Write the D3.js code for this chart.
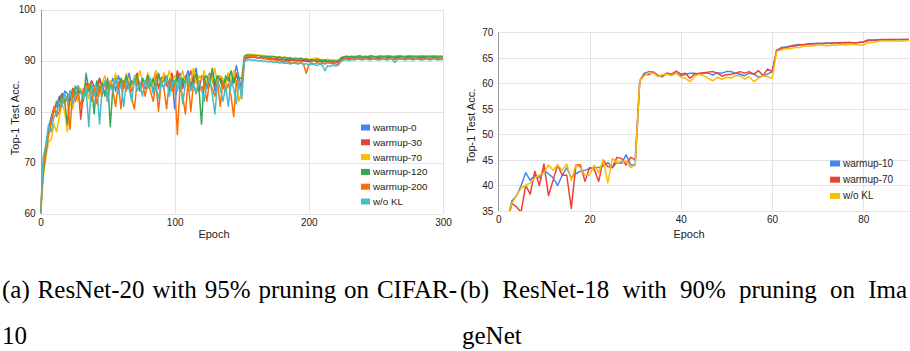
<!DOCTYPE html>
<html>
<head>
<meta charset="utf-8">
<script src="https://cdn.jsdelivr.net/npm/d3@7"></script>
<style>
  html, body { margin: 0; padding: 0; background: #fff; }
  svg { display: block; }
</style>
</head>
<body>
<script>
// ---------------- DATA ----------------
// Left chart: ResNet-20 / CIFAR-10, sampled every 2 epochs (0..300)
const epochsL = d3.range(0, 301, 2);
const seriesNamesL = ["warmup-0", "warmup-30", "warmup-70", "warmup-120", "warmup-200", "w/o KL"];
const warmup0 = [
  60, 69.5, 73, 76.5, 79, 80.5, 81, 83, 82, 84,
  83.5, 82, 84.5, 83, 85, 84, 83, 85.5, 84.5, 86,
  84, 85, 86.5, 85, 83.5, 86, 85, 86.5, 84, 87,
  85.5, 86, 84.5, 87.5, 85, 86, 87, 84.5, 86.5, 85,
  87.5, 86, 84, 87, 86.5, 85, 87.5, 86, 84, 87,
  80.5, 86, 87.5, 85, 86.5, 88, 85, 87, 88.5, 84.5,
  86.5, 87, 85, 86.5, 87.5, 84, 86, 87, 85.5, 86,
  87, 85, 86.5, 89, 86.5, 84.5,
  90.2, 90.5, 90.6, 90.7, 90.6, 90.5, 90.6, 90.4, 90.5, 90.4,
  90.3, 90.4, 90.2, 90.3, 90.1, 90.2, 90.0, 90.2, 90.1, 90.0,
  90.1, 89.9, 90.0, 89.8, 90.0, 89.9, 90.1, 89.8, 89.9, 89.7,
  89.8, 89.7, 89.9, 89.6, 89.8, 89.7, 90.3, 90.4, 90.5, 90.4,
  90.5, 90.4, 90.6, 90.5, 90.4, 90.5, 90.6, 90.5, 90.4, 90.5,
  90.6, 90.5, 90.4, 90.5, 90.6, 90.4, 90.5, 90.6, 90.5, 90.4,
  90.5, 90.6, 90.5, 90.4, 90.5, 90.6, 90.5, 90.6, 90.5, 90.4,
  90.5, 90.6, 90.5, 90.4, 90.5
];
const warmup30 = [
  60, 68.5, 72.5, 76, 78.5, 80.5, 79.5, 82.5, 83.5, 82,
  83, 81.5, 84.5, 83.5, 85, 78.5, 84, 85.5, 84, 86,
  85, 83, 86.5, 84.5, 85.5, 82.5, 86, 84, 87, 85.5,
  86, 84.5, 87, 85.5, 84, 86.5, 87.5, 85, 86, 84.5,
  87, 85.5, 86, 88, 84.5, 86.5, 87, 85, 86, 87.5,
  85, 88, 86, 84.5, 87, 86, 88, 85.5, 86.5, 84,
  87, 86, 84.5, 87.5, 86, 85, 87, 86.5, 84.5, 86,
  87.5, 85.5, 86, 87.5, 85, 85.5,
  90.4, 90.6, 90.7, 90.6, 90.7, 90.5, 90.6, 90.5, 90.4, 90.5,
  90.4, 90.3, 90.4, 90.2, 90.3, 90.1, 90.2, 90.0, 90.1, 90.0,
  89.9, 90.1, 89.8, 90.0, 89.7, 89.9, 90.0, 89.8, 89.9, 89.8,
  89.9, 89.7, 89.8, 89.6, 89.8, 89.5, 90.2, 90.4, 90.3, 90.5,
  90.4, 90.5, 90.3, 90.4, 90.5, 90.3, 90.4, 90.5, 90.4, 90.3,
  90.4, 90.5, 90.3, 90.4, 90.5, 90.4, 90.3, 90.4, 90.5, 90.4,
  90.3, 90.4, 90.5, 90.4, 90.3, 90.4, 90.5, 90.4, 90.3, 90.4,
  90.5, 90.4, 90.3, 90.4, 90.4
];
const warmup70 = [
  59, 67, 71, 74, 74.5, 77.5, 76, 79, 81.5, 80,
  76, 82, 80.5, 83.5, 82, 84.5, 83, 85, 82.5, 85.5,
  84, 86, 83, 85.5, 87, 84.5, 86, 85, 87.5, 84,
  86.5, 85, 87.5, 86, 84.5, 87, 85.5, 88, 86, 85,
  87.5, 86, 85, 88, 86.5, 85, 87.5, 86, 88, 85.5,
  87, 85.5, 86.5, 88, 85, 87, 86, 88.5, 85.5, 87,
  86, 88, 85.5, 87, 86, 88.5, 85, 87, 86.5, 85,
  87.5, 86, 88, 85.5, 82, 84,
  90.9, 91.2, 91.3, 91.1, 91.2, 91.0, 91.1, 90.9, 91.0, 90.8,
  90.9, 90.8, 90.7, 90.8, 90.6, 90.7, 90.5, 90.6, 90.4, 90.5,
  90.4, 90.5, 90.3, 90.4, 90.2, 90.3, 90.4, 90.5, 90.3, 90.2,
  90.1, 90.3, 90.0, 90.2, 89.9, 90.1, 90.6, 90.8, 90.9, 90.8,
  90.9, 90.8, 90.9, 91.0, 90.8, 90.9, 90.8, 91.0, 90.9, 90.8,
  90.9, 90.8, 90.9, 91.0, 90.9, 90.8, 90.9, 91.0, 90.9, 90.8,
  90.9, 91.0, 90.8, 90.9, 91.0, 90.9, 90.8, 90.9, 91.0, 90.9,
  90.8, 90.9, 91.0, 90.9, 90.8
];
const warmup120 = [
  60, 68, 72, 75.5, 78, 80, 82, 81, 83.5, 82,
  77.5, 84, 82.5, 85, 83.5, 84, 82, 87.5, 84, 85.5,
  79.5, 86, 84, 85.5, 83, 86.5, 77, 85, 86, 84,
  86.5, 85, 87, 84.5, 86, 85.5, 87, 84, 86.5, 85.5,
  87, 85, 86.5, 84.5, 87.5, 85.5, 86, 87, 84.5, 86.5,
  85, 87, 84, 86.5, 85.5, 87, 84.5, 86, 87.5, 85,
  77.5, 86.5, 87, 85, 88.5, 85.5, 87, 86, 84.5, 87,
  86, 88, 85.5, 87, 86.5, 86.5,
  90.8, 91.1, 91.0, 91.1, 90.9, 91.0, 90.8, 90.9, 90.7, 90.8,
  90.7, 90.8, 90.6, 90.7, 90.5, 90.6, 90.4, 90.5, 90.3, 90.4,
  90.3, 90.4, 90.2, 90.3, 90.1, 90.2, 90.0, 90.2, 90.1, 90.0,
  90.1, 89.9, 90.0, 89.8, 90.0, 89.9, 90.5, 90.7, 90.8, 90.7,
  90.8, 90.7, 90.8, 90.9, 90.7, 90.8, 90.7, 90.9, 90.8, 90.7,
  90.8, 90.9, 90.7, 90.8, 90.9, 90.8, 90.7, 90.8, 90.9, 90.8,
  90.7, 90.8, 90.9, 90.8, 90.7, 90.8, 90.9, 90.8, 90.7, 90.8,
  90.9, 90.8, 90.7, 90.8, 90.8
];
const warmup200 = [
  59.5, 69, 72.5, 75.5, 78, 81, 79, 80, 82.5, 81.5,
  83, 76.5, 84, 82, 83.5, 81, 84.5, 83, 85.5, 82,
  84.5, 81.5, 85, 83, 86, 82, 85.5, 84, 81, 85.5,
  80.5, 86, 84, 85.5, 82.5, 80.5, 86, 84, 85.5, 83,
  86, 84, 82, 85.5, 80, 86, 84.5, 80.5, 86, 84,
  85.5, 75.5, 85, 83, 79.5, 86, 80, 85.5, 83.5, 86,
  84, 85.5, 82, 86, 84.5, 83, 85.5, 81, 86, 84,
  85.5, 83, 79, 86, 84.5, 85,
  90.5, 90.8, 90.9, 90.7, 90.8, 90.5, 90.6, 90.3, 90.4, 90.2,
  90.1, 90.2, 89.9, 90.0, 89.8, 89.7, 89.9, 89.6, 89.5, 89.7,
  89.4, 89.6, 89.3, 87.5, 89.2, 89.5, 89.3, 89.6, 89.4, 89.5,
  89.3, 89.6, 89.4, 89.5, 89.3, 89.2, 90.0, 90.2, 90.3, 90.1,
  90.3, 90.2, 90.4, 90.3, 90.2, 90.4, 90.3, 90.2, 90.4, 90.3,
  90.2, 90.3, 90.4, 90.2, 90.3, 90.4, 90.2, 90.3, 90.4, 90.3,
  90.2, 90.4, 90.3, 90.2, 90.4, 90.3, 90.2, 90.3, 90.4, 90.2,
  90.3, 90.4, 90.2, 90.3, 90.3
];
const woKL_L = [
  60, 71, 73.5, 77.5, 76, 79, 79.5, 82, 81, 83.5,
  82, 84, 81.5, 83, 85, 84, 82.5, 84.5, 77, 85.5,
  83, 85, 77.5, 84.5, 86, 82, 85, 84, 86.5, 83.5,
  85.5, 81, 86, 84.5, 82, 86.5, 84, 85.5, 83, 86,
  84.5, 86.5, 83.5, 85, 82.5, 86, 84.5, 87, 83, 85.5,
  86, 84, 86.5, 81.5, 85.5, 87, 84, 85.5, 83.5, 86,
  84.5, 82, 85.5, 86.5, 83.5, 79.5, 86, 84.5, 82, 85,
  81, 86, 84.5, 81.5, 86, 82.5,
  89.8, 90.1, 90.2, 90.0, 90.1, 89.9, 90.0, 89.8, 89.9, 89.7,
  89.8, 89.6, 89.7, 89.5, 89.6, 89.4, 89.5, 89.3, 89.5, 89.4,
  89.3, 89.5, 89.2, 89.4, 89.1, 89.3, 89.2, 89.0, 89.3, 89.1,
  88.0, 89.0, 88.8, 89.2, 88.9, 89.1, 89.8, 90.1, 90.2, 90.0,
  90.2, 90.1, 90.3, 90.2, 90.1, 90.3, 90.2, 90.1, 90.3, 90.2,
  90.1, 90.2, 90.3, 90.1, 90.2, 90.3, 89.6, 90.2, 90.3, 90.2,
  90.1, 90.3, 90.2, 90.1, 90.3, 90.2, 90.1, 90.2, 90.3, 90.1,
  90.2, 90.3, 90.1, 90.2, 90.2
];
const yTicksL = [60, 70, 80, 90, 100];
const xTicksL = [0, 100, 200, 300];

// Right chart: ResNet-18 / ImageNet, epochs 2..90
const epochsR = d3.range(2, 91);
const seriesNamesR = ["warmup-10", "warmup-70", "w/o KL"];
const warmup10R = [
  33.5, 37, 38, 40, 42.5, 41, 42, 41.5, 43, 42.3,
  41.5, 40, 42, 43.5, 41.5, 42.3, 42.8, 43, 43.3, 43.5,
  43.5, 43.8, 44.5, 43.5, 44.5, 44.3, 46, 44, 44, 60.5,
  62, 62.3, 62.2, 61.5, 61.3, 62, 61.7, 62, 61.5, 61.8,
  62, 62, 61.8, 62, 62, 61.6, 62.1, 62, 62.3, 62.3,
  62, 61.8, 61.5, 62, 61.8, 61.2, 61.5, 61.8, 62.3, 66.5,
  67, 67.1, 67.3, 67.5, 67.6, 67.5, 67.7, 67.8, 67.8, 67.8,
  67.9, 67.8, 67.9, 68, 67.9, 68, 67.9, 68, 68.1, 68.4,
  68.4, 68.5, 68.5, 68.5, 68.6, 68.5, 68.6, 68.6, 68.6
];
const warmup70R = [
  33, 36.5, 35.8, 34.8, 40, 38.3, 42.8, 40, 44.2, 38,
  41, 44, 42, 42, 35.5, 44, 44, 40.8, 43.5, 43.2,
  40.8, 45, 43.7, 43.5, 45.5, 45.3, 44, 45.5, 45, 60.5,
  61.8, 61.7, 62.2, 61.5, 61.5, 62, 61.8, 62.4, 61.8, 62,
  61, 61.8, 62, 62.1, 62.2, 62.3, 62, 61.4, 61.7, 61.8,
  62, 62.3, 62, 62.3, 61.8, 62.5, 61.5, 62.8, 62.3, 66.4,
  66.8, 67, 67.2, 67.3, 67.5, 67.6, 67.7, 67.7, 67.8, 67.8,
  67.8, 67.9, 67.9, 67.9, 68, 68, 67.9, 68, 68.1, 68.5,
  68.5, 68.5, 68.6, 68.6, 68.6, 68.6, 68.6, 68.6, 68.6
];
const woKL_R = [
  34, 36.5, 38, 39.5, 40, 40.5, 41.5, 42, 42.5, 44,
  43, 44, 43, 44.2, 41, 44, 43.5, 42, 42, 44,
  42.5, 45, 40.5, 45.3, 44.5, 44.7, 44.8, 43.5, 44, 60.5,
  61.5, 62, 62, 61.3, 61.7, 61.8, 61.5, 62, 61.2, 61,
  60.3, 61.3, 61.8, 61.5, 61, 60.5, 61.2, 60.8, 61.2, 61,
  61.5, 61.5, 60.8, 61.3, 60.3, 61, 61.5, 61.3, 61, 66.2,
  66.6, 66.8, 66.8, 67, 67, 67.3, 67.3, 67.3, 67.5, 67.5,
  67.3, 67.5, 67.4, 67.6, 67.5, 67.6, 67.6, 67.5, 67.5, 68,
  68, 68.2, 68.3, 68.3, 68.3, 68.3, 68.3, 68.3, 68.4
];
const yTicksR = [35, 40, 45, 50, 55, 60, 65, 70];
const xTicksR = [0, 20, 40, 60, 80];

const captionA = ["(a) ResNet-20 with 95% pruning on CIFAR-", "10"];
const captionB = ["(b) ResNet-18 with 90% pruning on Ima", "geNet"];

const colorsL = ["#4285f4", "#ea4335", "#fbbc04", "#34a853", "#ff6d01", "#46bdc6"];
const colorsR = ["#4285f4", "#ea4335", "#fbbc04"];

// ---------------- DRAW ----------------
const svg = d3.select("body").append("svg").attr("width", 910).attr("height", 351);
svg.append("rect").attr("width", 910).attr("height", 351).attr("fill", "#fff");
const sans = "'Liberation Sans', Arial, Helvetica, sans-serif";

function panel(cfg) {
  const g = svg.append("g");
  const x = d3.scaleLinear().domain(cfg.xDomain).range(cfg.xRange);
  const y = d3.scaleLinear().domain(cfg.yDomain).range(cfg.yRange);
  const [x0, x1] = cfg.xRange, [y0, y1] = cfg.yRange;

  // gridlines
  g.append("g").selectAll("line").data(cfg.yTicks).join("line")
    .attr("x1", x0).attr("x2", x1)
    .attr("y1", d => Math.round(y(d)) + 0.5).attr("y2", d => Math.round(y(d)) + 0.5)
    .attr("stroke", "#e3e3e3").attr("stroke-width", 1);
  g.append("g").selectAll("line").data(cfg.xTicks.filter(d => d > cfg.xDomain[0])).join("line")
    .attr("x1", d => Math.round(x(d)) + 0.5).attr("x2", d => Math.round(x(d)) + 0.5)
    .attr("y1", y1).attr("y2", y0)
    .attr("stroke", "#e3e3e3").attr("stroke-width", 1);
  // left axis line
  g.append("line").attr("x1", Math.round(x0) + 0.5).attr("x2", Math.round(x0) + 0.5)
    .attr("y1", y1).attr("y2", y0).attr("stroke", "#9a9a9a").attr("stroke-width", 1);

  // axes labels
  const ay = g.append("g").attr("transform", `translate(${x0},0)`)
    .call(d3.axisLeft(y).tickValues(cfg.yTicks).tickSize(0).tickPadding(cfg.yPad).tickFormat(d3.format("d")));
  ay.select(".domain").remove();
  ay.selectAll("text").attr("font-family", sans).attr("font-size", cfg.tickFont).attr("fill", "#222");

  const ax = g.append("g").attr("transform", `translate(0,${y0})`)
    .call(d3.axisBottom(x).tickValues(cfg.xTicks).tickSize(0).tickPadding(cfg.xPad).tickFormat(d3.format("d")));
  ax.select(".domain").remove();
  ax.selectAll("text").attr("font-family", sans).attr("font-size", cfg.tickFont).attr("fill", "#222");

  // titles
  g.append("text").attr("x", cfg.xTitle[0]).attr("y", cfg.xTitle[1])
    .attr("text-anchor", "middle").attr("font-family", sans).attr("font-size", 11).attr("fill", "#222")
    .text("Epoch");
  g.append("text").attr("transform", `translate(${cfg.yTitle[0]},${cfg.yTitle[1]}) rotate(-90)`)
    .attr("text-anchor", "middle").attr("font-family", sans).attr("font-size", 11).attr("fill", "#222")
    .text("Top-1 Test Acc.");

  // lines
  const clipId = "clip" + cfg.id;
  svg.append("clipPath").attr("id", clipId).append("rect")
    .attr("x", x0).attr("y", y1).attr("width", x1 - x0).attr("height", y0 - y1);
  const line = d3.line().x((d, i) => x(cfg.epochs[i])).y(d => y(d));
  g.append("g").attr("clip-path", `url(#${clipId})`)
    .selectAll("path").data(cfg.series).join("path")
    .attr("d", d => line(d))
    .attr("fill", "none")
    .attr("stroke", (d, i) => cfg.colors[i])
    .attr("stroke-width", cfg.lineW)
    .attr("stroke-linejoin", "round");

  // legend
  const lg = g.append("g");
  cfg.names.forEach((n, i) => {
    const cy = cfg.legend.y + i * cfg.legend.step;
    lg.append("rect").attr("x", cfg.legend.x).attr("y", cy - 3).attr("width", cfg.legend.sw).attr("height", 6)
      .attr("fill", cfg.colors[i]);
    lg.append("text").attr("x", cfg.legend.x + cfg.legend.sw + 3).attr("y", cy).attr("dy", "0.35em")
      .attr("font-family", sans).attr("font-size", cfg.legend.font).attr("fill", "#222").text(n);
  });
}

panel({
  id: "L",
  xDomain: [0, 300], xRange: [40.5, 443],
  yDomain: [60, 100], yRange: [213.5, 9.5],
  yTicks: yTicksL, xTicks: xTicksL,
  epochs: epochsL,
  series: [warmup0, warmup30, warmup70, warmup120, warmup200, woKL_L],
  names: seriesNamesL, colors: colorsL,
  tickFont: 10, yPad: 5, xPad: 5,
  xTitle: [214, 238], yTitle: [19, 118],
  lineW: 1.5,
  legend: { x: 361, y: 127.5, step: 14.8, sw: 9, font: 9.8 }
});

panel({
  id: "R",
  xDomain: [0, 90], xRange: [498.3, 909],
  yDomain: [35, 70], yRange: [211, 32.3],
  yTicks: yTicksR, xTicks: xTicksR,
  epochs: epochsR,
  series: [warmup10R, warmup70R, woKL_R],
  names: seriesNamesR, colors: colorsR,
  tickFont: 10, yPad: 5, xPad: 5,
  xTitle: [689, 238], yTitle: [475, 126],
  lineW: 1.5,
  legend: { x: 830, y: 163.5, step: 16.2, sw: 10, font: 10 }
});

// captions (justified first lines)
const serif = "'Liberation Serif', 'Times New Roman', Times, serif";
function captionLine(txt, x, y, width) {
  const t = svg.append("text").attr("x", x).attr("y", y)
    .attr("font-family", serif).attr("font-size", 25).attr("fill", "#000").text(txt);
  if (width) {
    const w = t.node().getComputedTextLength();
    const spaces = (txt.match(/ /g) || []).length;
    if (spaces > 0) t.attr("word-spacing", (width - w) / spaces);
  }
}
captionLine(captionA[0], 2, 298, 455);
captionLine(captionA[1], 2, 344, 0);
captionLine(captionB[0], 460, 298, 447);
captionLine(captionB[1], 462, 344, 0);
</script>
</body>
</html>
